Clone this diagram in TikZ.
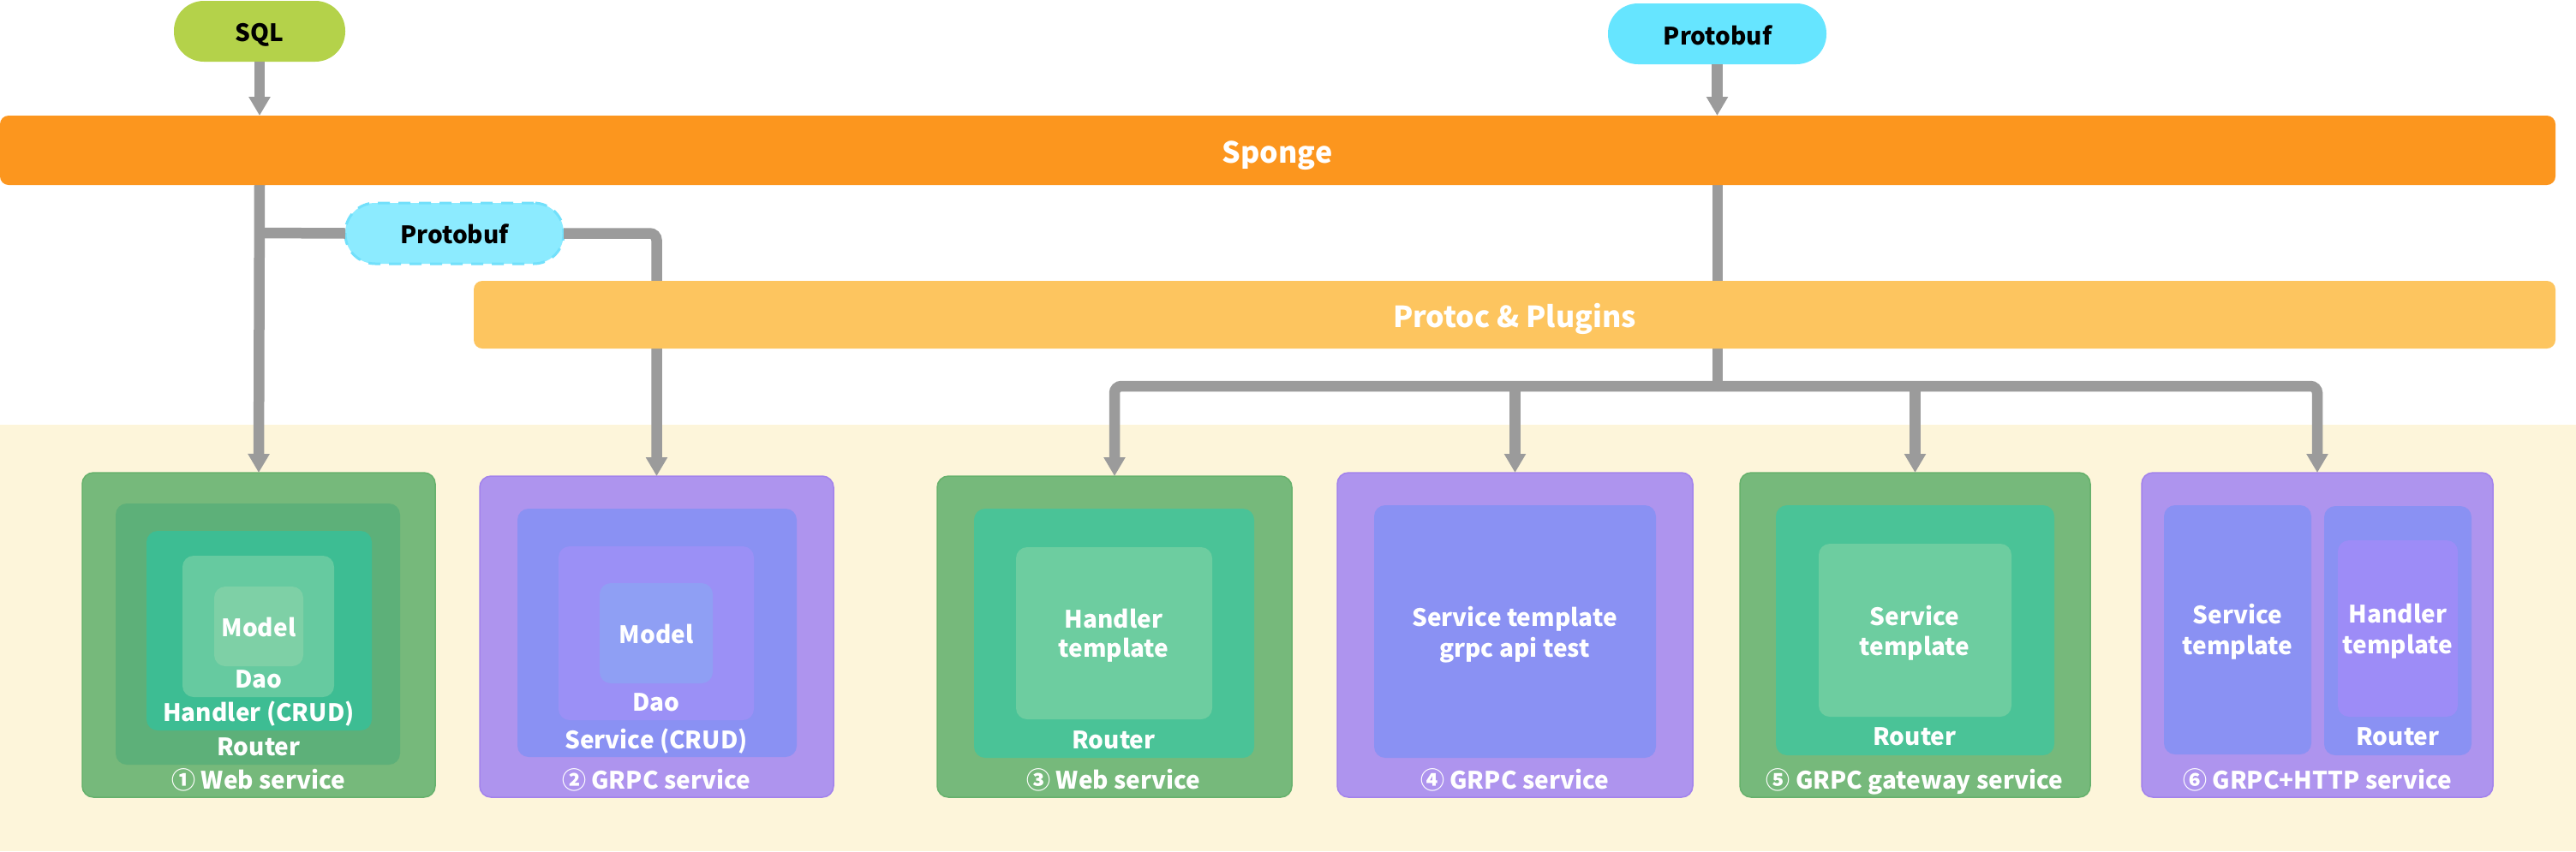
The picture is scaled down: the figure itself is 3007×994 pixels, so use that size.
\documentclass[tikz,border=0pt]{standalone}
\usepackage{fontspec}
\setmainfont{Noto Sans CJK SC}
\usetikzlibrary{arrows.meta,fit}
\definecolor{sqlgreen}{HTML}{B4D24A}
\definecolor{pbcyan}{HTML}{66E5FF}
\definecolor{pbdashfill}{HTML}{8CEBFF}
\definecolor{pbdashline}{HTML}{72E0FB}
\definecolor{spongeorange}{HTML}{FC961E}
\definecolor{protocyellow}{HTML}{FDC55F}
\definecolor{bgyellow}{HTML}{FDF5DA}
\definecolor{linegray}{HTML}{9B9B9B}
\definecolor{gouter}{HTML}{76B97B}
\definecolor{gouterline}{HTML}{66B16C}
\definecolor{gtwo}{HTML}{5DB079}
\definecolor{gteal}{HTML}{3DBD93}
\definecolor{gfour}{HTML}{66CAA0}
\definecolor{gfive}{HTML}{7ED0A6}
\definecolor{gmid}{HTML}{4AC397}
\definecolor{glight}{HTML}{6DCDA0}
\definecolor{pouter}{HTML}{AE94EE}
\definecolor{pouterline}{HTML}{A282EC}
\definecolor{pblue}{HTML}{8A91F3}
\definecolor{pviolet}{HTML}{9B90F6}
\definecolor{pbluelight}{HTML}{8F9FF4}
\definecolor{pvioletlight}{HTML}{9D8CF7}
\newcommand\mkbox[6]{\node[#6, fit={(#2,#3) (#4,#5)}] (#1) {};}
\begin{document}
\begin{tikzpicture}[x=1pt,y=-1pt,
  area/.style={inner sep=0pt, outer sep=0pt, rounded corners=13pt},
  pill/.style={inner sep=0pt, outer sep=0pt, rounded corners=35pt},
  outerg/.style={area, fill=gouter, draw=gouterline, line width=1.5pt},
  outerp/.style={area, fill=pouter, draw=pouterline, line width=1.5pt},
  conn/.style={draw=linegray, line width=12.5pt},
  arr/.style={conn, -{Triangle[width=24pt,length=22pt]}},
  bigtxt/.style={text=white, font=\bfseries\fontsize{34}{40}\selectfont, anchor=base, inner sep=0pt},
  pilltxt/.style={text=black, font=\bfseries\fontsize{28}{34}\selectfont, anchor=base, inner sep=0pt},
  boxtxt/.style={text=white, font=\bfseries\fontsize{28}{34}\selectfont, anchor=base, inner sep=0pt},
]
\useasboundingbox (0,0) rectangle (3007,994);
\fill[white] (0,0) rectangle (3007,994);
\fill[bgyellow] (0,496) rectangle (3007,994);

% top nodes
\mkbox{sql}{203}{1}{403}{72}{pill, fill=sqlgreen}
\mkbox{pbtop}{1877}{4}{2132}{75}{pill, fill=pbcyan}
\mkbox{pbdash}{403}{237}{658}{308}{pill, fill=pbdashfill, draw=pbdashline, line width=3pt, dash pattern=on 14pt off 10pt}
\node[pilltxt] (sqlt) at (303,48) {SQL};
\node[pilltxt] (pbtopt) at (2005,52) {Protobuf};

% bottom boxes
\mkbox{b1}{96}{552}{508}{931}{outerg}
\mkbox{b2}{560}{556}{973}{931}{outerp}
\mkbox{b3}{1094}{556}{1508}{931}{outerg}
\mkbox{b4}{1561}{552}{1976}{931}{outerp}
\mkbox{b5}{2031}{552}{2440}{931}{outerg}
\mkbox{b6}{2500}{552}{2910}{931}{outerp}

% connectors (behind bars)
\coordinate (hub) at (2005,451);
\coordinate (branch) at (303,272);
\draw[arr] (sql.south) -- (sql.south |- 0,135);
\draw[arr] (pbtop.south) -- (pbtop.south |- 0,135);
\draw[arr] (303,216) -- (b1.north);
\draw[conn] (branch) -- (pbdash.west);
\draw[arr, rounded corners=8pt] (pbdash.east) -| (b2.north);
\draw[conn] (2005,216) -- (hub);
\draw[arr, rounded corners=8pt] (hub) -| (b3.north);
\draw[arr, rounded corners=8pt] (hub) -| (b6.north);
\draw[arr] (hub -| b4.north) -- (b4.north);
\draw[arr] (hub -| b5.north) -- (b5.north);
\node[pilltxt] (pbdasht) at (pbdash.center |- 0,284) {Protobuf};

% bars
\mkbox{sponge}{0}{135}{2983}{216}{area, rounded corners=10pt, fill=spongeorange}
\mkbox{protoc}{553}{328}{2983}{407}{area, rounded corners=10pt, fill=protocyellow}
\node[bigtxt] (spongetxt) at (1491,190) {Sponge};
\node[bigtxt] (protoctxt) at (1768,382) {Protoc \& Plugins};

% box 1 layers
\mkbox{b1a}{135}{588}{467}{893}{area, fill=gtwo}
\mkbox{b1b}{171}{620}{434}{853}{area, fill=gteal}
\mkbox{b1c}{213}{649}{390}{814}{area, fill=gfour}
\mkbox{b1d}{250}{685}{354}{778}{area, fill=gfive}
\node[boxtxt] (t1a) at (302,743) {Model};
\node[boxtxt] (t1b) at (302,803) {Dao};
\node[boxtxt] (t1c) at (302,842) {Handler (CRUD)};
\node[boxtxt] (t1d) at (302,882) {Router};
\node[boxtxt] (t1e) at (302,921) {① Web service};

% box 2 layers
\mkbox{b2a}{604}{594}{930}{884}{area, fill=pblue}
\mkbox{b2b}{652}{638}{880}{841}{area, fill=pviolet}
\mkbox{b2c}{700}{681}{832}{798}{area, fill=pbluelight}
\node[boxtxt] (t2a) at (766,751) {Model};
\node[boxtxt] (t2b) at (766,830) {Dao};
\node[boxtxt] (t2c) at (766,874) {Service (CRUD)};
\node[boxtxt] (t2d) at (766,921) {② GRPC service};

% box 3 layers
\mkbox{b3a}{1137}{594}{1464}{885}{area, fill=gmid}
\mkbox{b3b}{1186}{639}{1415}{840}{area, fill=glight}
\node[boxtxt] (t3a) at (1300,733) {Handler};
\node[boxtxt] (t3b) at (1300,767) {template};
\node[boxtxt] (t3c) at (1300,874) {Router};
\node[boxtxt] (t3d) at (1300,921) {③ Web service};

% box 4 layers
\mkbox{b4a}{1604}{590}{1933}{885}{area, fill=pblue}
\node[boxtxt] (t4a) at (1768,731) {Service template};
\node[boxtxt] (t4b) at (1768,767) {grpc api test};
\node[boxtxt] (t4c) at (1768,921) {④ GRPC service};

% box 5 layers
\mkbox{b5a}{2073}{590}{2398}{882}{area, fill=gmid}
\mkbox{b5b}{2123}{635}{2348}{837}{area, fill=glight}
\node[boxtxt] (t5a) at (2235,730) {Service};
\node[boxtxt] (t5b) at (2235,765) {template};
\node[boxtxt] (t5c) at (2235,870) {Router};
\node[boxtxt] (t5d) at (2235,921) {⑤ GRPC gateway service};

% box 6 layers
\mkbox{b6a}{2526}{590}{2698}{881}{area, fill=pblue}
\mkbox{b6b}{2713}{591}{2885}{882}{area, fill=pblue}
\mkbox{b6c}{2729}{631}{2869}{837}{area, fill=pvioletlight}
\node[boxtxt] (t6a) at (2612,728) {Service};
\node[boxtxt] (t6b) at (2612,764) {template};
\node[boxtxt] (t6c) at (2799,727) {Handler};
\node[boxtxt] (t6d) at (2799,763) {template};
\node[boxtxt] (t6e) at (2799,870) {Router};
\node[boxtxt] (t6f) at (2705,921) {⑥ GRPC+HTTP service};
\end{tikzpicture}
\end{document}
